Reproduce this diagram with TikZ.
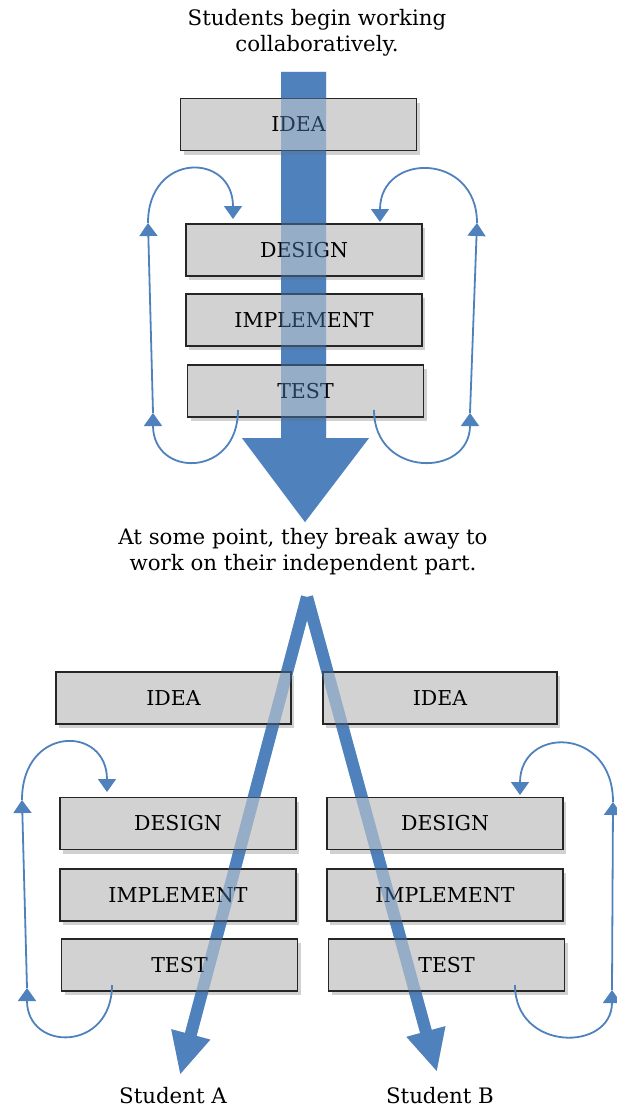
\documentclass[tikz,border=0pt]{standalone}
\usepackage{fontspec}
\setmainfont{DejaVu Serif}
\usetikzlibrary{arrows.meta,shadows}
\definecolor{ablue}{RGB}{79,129,189}
\definecolor{boxgray}{RGB}{210,210,210}
\newcommand\mainarrowpath{(281,72) -- (326,72) -- (326,438) -- (369,438) -- (305,522) -- (242,438) -- (281,438) -- cycle}
\begin{document}
\begin{tikzpicture}[x=1pt,y=-1pt,
  stage/.style={draw=black!85, line width=1.2pt, fill=boxgray, minimum width=236pt, minimum height=52pt, inner sep=0pt,
    font=\fontsize{20.5}{24}\selectfont,
    drop shadow={shadow xshift=3pt, shadow yshift=-4pt, opacity=0.3, fill=black!60}},
  loopline/.style={draw=ablue, line width=1.8pt, -{Triangle[width=18pt,length=13pt]}},
  caption/.style={align=center, font=\fontsize{21.3}{26}\selectfont},
  split/.style={draw=ablue, line width=12pt, -{Triangle[width=37pt,length=42pt]}}]
\useasboundingbox (0,0) rectangle (617,1108);

% texts
\node[caption] (title) at (317,33) {Students begin working\\collaboratively.};
\node[caption] (mid) at (303,552) {At some point, they break away to\\work on their independent part.};

% split coordinates
\coordinate (fork) at (307,597);
\coordinate (tipA) at (180,1075);
\coordinate (tipB) at (437,1072);

% arrows (full colour)
\fill[ablue] \mainarrowpath;
\draw[split] (fork) -- (tipA);
\draw[split] (fork) -- (tipB);

% top boxes
\node[stage] (idea) at (298.5,124.5) {IDEA};
\node[stage] (design) at (304,250) {DESIGN};
\node[stage] (impl) at (304,320) {IMPLEMENT};
\node[stage] (test) at (305.5,391) {TEST};

% bottom left boxes
\node[stage, minimum width=235pt] (ideaA) at (173.5,698) {IDEA};
\node[stage] (designA) at (178,823.5) {DESIGN};
\node[stage] (implA) at (178,895) {IMPLEMENT};
\node[stage] (testA) at (179.5,965) {TEST};

% bottom right boxes
\node[stage, minimum width=234pt] (ideaB) at (440,698) {IDEA};
\node[stage] (designB) at (445,823.5) {DESIGN};
\node[stage] (implB) at (445,895) {IMPLEMENT};
\node[stage] (testB) at (446.5,965) {TEST};

% see-through overlay of the arrows on the boxes
\fill[ablue, opacity=0.45] \mainarrowpath;
\draw[split, opacity=0.45] (fork) -- (tipA);
\draw[split, opacity=0.45] (fork) -- (tipB);

% top loops
\coordinate (ts) at (238,410);
\coordinate (l1) at (153,413);
\coordinate (l2) at (148,223);
\coordinate (le) at (233,219);
\coordinate (tse) at (374,410);
\coordinate (r1) at (470,413);
\coordinate (r2) at (477,223);
\coordinate (re) at (380,222);
\draw[loopline] (ts) .. controls (238,478) and (153,478) .. (l1);
\draw[loopline] (l1) -- (l2);
\draw[loopline] (l2) .. controls (148,152) and (233,152) .. (le);
\draw[loopline] (tse) .. controls (374,478) and (470,478) .. (r1);
\draw[loopline] (r1) -- (r2);
\draw[loopline] (r2) .. controls (477,152) and (380,152) .. (re);

% bottom-left loop
\coordinate (tas) at (112,985);
\coordinate (la1) at (27,988);
\coordinate (la2) at (22,800);
\coordinate (lae) at (107,792);
\draw[loopline] (tas) .. controls (112,1052) and (27,1052) .. (la1);
\draw[loopline] (la1) -- (la2);
\draw[loopline] (la2) .. controls (22,725) and (107,725) .. (lae);

% bottom-right loop
\coordinate (tbs) at (515,985);
\coordinate (lb1) at (612,990);
\coordinate (lb2) at (613,802);
\coordinate (lbe) at (520,795);
\draw[loopline] (tbs) .. controls (515,1052) and (612,1052) .. (lb1);
\draw[loopline] (lb1) -- (lb2);
\draw[loopline] (lb2) .. controls (613,726) and (520,726) .. (lbe);

% student labels
\node[caption] (studA) at (173,1096) {Student A};
\node[caption] (studB) at (440,1096) {Student B};
\end{tikzpicture}
\end{document}
